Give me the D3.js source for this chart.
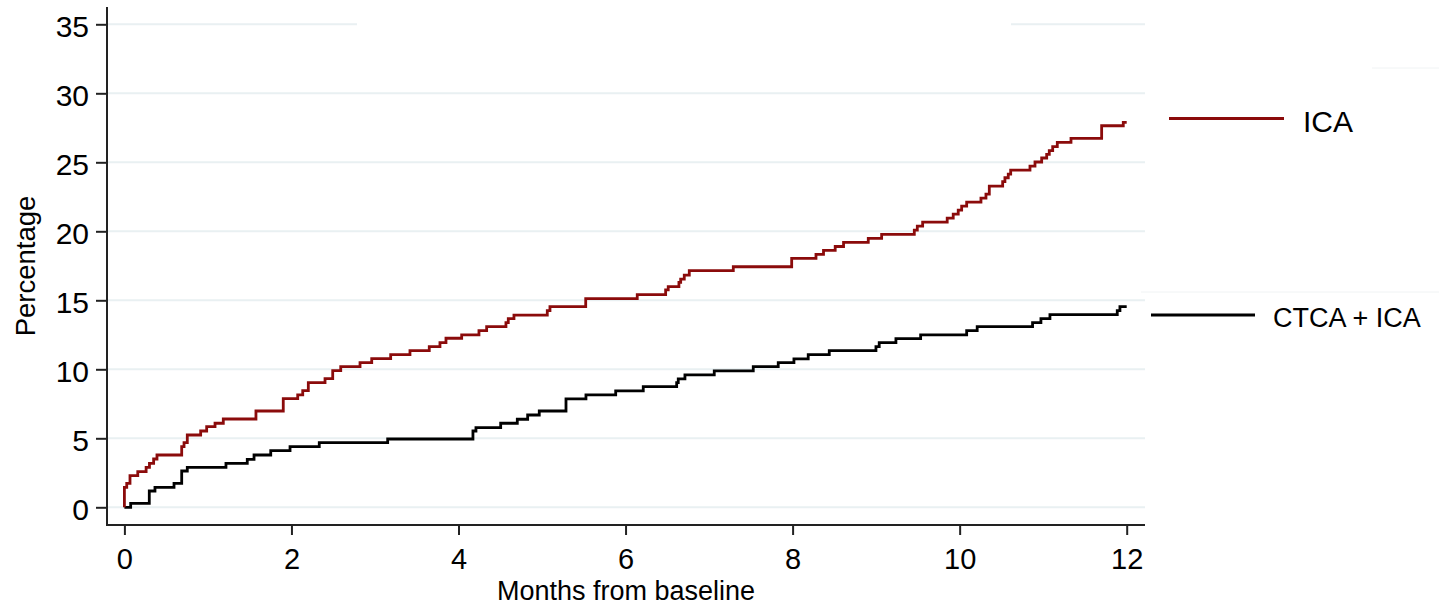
<!DOCTYPE html>
<html>
<head>
<meta charset="utf-8">
<script src="https://cdn.jsdelivr.net/npm/d3@7"></script>
<style>
  html, body { margin: 0; padding: 0; background: #fff; }
  svg { display: block; font-family: "Liberation Sans", Arial, sans-serif; }
</style>
</head>
<body>
<svg id="chart"></svg>
<script>
// cumulative percentage (time of step, new value)
let icaMonths = [0, 0, 0.028, 0.067, 0.16, 0.26, 0.30, 0.35, 0.39, 0.686, 0.714, 0.753, 0.913, 0.985, 1.085, 1.184,
    1.575, 1.902, 2.075, 2.135, 2.202, 2.402, 2.494, 2.59, 2.821, 2.961, 3.188, 3.419, 3.65, 3.778, 3.85,
    4.038, 4.245, 4.337, 4.568, 4.596, 4.664, 5.063, 5.095, 5.523, 6.14, 6.48, 6.511, 6.639, 6.66, 6.703,
    6.763, 7.29, 7.989, 8.28, 8.37, 8.51, 8.61, 8.906, 9.066, 9.457, 9.493, 9.557, 9.851, 9.923, 9.983,
    10.024, 10.084, 10.255, 10.315, 10.355, 10.515, 10.542, 10.582, 10.611, 10.842, 10.902, 10.982, 11.042,
    11.073, 11.114, 11.169, 11.333, 11.70, 11.959, 12.0];
let icaPct = [0, 1.45, 1.74, 2.29, 2.58, 2.9, 3.19, 3.5, 3.79, 4.39, 4.68, 5.24, 5.53, 5.84, 6.09, 6.40,
    6.98, 7.87, 8.14, 8.45, 9.03, 9.32, 9.9, 10.19, 10.48, 10.77, 11.06, 11.35, 11.64, 11.93, 12.25,
    12.49, 12.8, 13.09, 13.38, 13.67, 13.93, 14.25, 14.54, 15.12, 15.41, 15.75, 15.99, 16.3, 16.54, 16.83,
    17.15, 17.43, 18.04, 18.33, 18.62, 18.9, 19.2, 19.49, 19.78, 20.09, 20.38, 20.67, 20.96, 21.25, 21.54,
    21.83, 22.12, 22.41, 22.7, 23.28, 23.6, 23.88, 24.15, 24.44, 24.73, 25.02, 25.31, 25.58,
    25.84, 26.13, 26.45, 26.74, 27.65, 27.9, 27.9];

let ctcaMonths = [0, 0.075, 0.298, 0.366, 0.594, 0.686, 0.753, 1.216, 1.471, 1.552, 1.752, 1.983, 2.333, 3.152,
    4.173, 4.209, 4.505, 4.704, 4.828, 4.967, 5.287, 5.526, 5.882, 6.212, 6.612, 6.631, 6.711, 7.062, 7.529,
    7.828, 8.016, 8.187, 8.439, 8.998, 9.037, 9.237, 9.533, 10.084, 10.21, 10.873, 10.973, 11.081, 11.887,
    11.919, 12.0];
let ctcaPct = [0, 0.29, 1.18, 1.45, 1.74, 2.63, 2.9, 3.19, 3.48, 3.79, 4.1, 4.39, 4.68, 4.95,
    5.53, 5.77, 6.09, 6.38, 6.69, 6.98, 7.85, 8.14, 8.43, 8.74, 9.03, 9.3, 9.59, 9.88, 10.19,
    10.48, 10.75, 11.06, 11.35, 11.64, 11.93, 12.22, 12.49, 12.8, 13.09, 13.38, 13.67, 13.96, 14.25,
    14.54, 14.54];

let xTicks = [0, 2, 4, 6, 8, 10, 12];
let yTicks = [0, 5, 10, 15, 20, 25, 30, 35];
let seriesNames = ['ICA', 'CTCA + ICA'];

let width = 1439;
let height = 604;
let red = '#8b0b0b';
let gridColor = '#e9f0f2';

function main() {
    let svg = d3.select('#chart')
        .attr('width', width)
        .attr('height', height);

    // plot frame
    let frame = {'left': 107, 'right': 1145, 'top': 7, 'bottom': 525};

    let x = d3.scaleLinear().domain([0, 12]).range([124.4, 1126.7]);
    let y = d3.scaleLinear().domain([0, 35]).range([507.3, 24.3]);

    // gridlines
    let grid = svg.append('g');
    yTicks.forEach(function (t) {
        let g = grid.append('line')
            .attr('x1', frame.left)
            .attr('x2', frame.right)
            .attr('y1', y(t))
            .attr('y2', y(t))
            .attr('stroke', gridColor)
            .attr('stroke-width', 2);
        if (t == 35) {
            // top line is broken in the original
            g.attr('stroke-dasharray', `${357 - frame.left} ${1011 - 357} 200`);
        }
    });

    // faint legend region edges
    svg.append('line')
        .attr('x1', 1141).attr('x2', width).attr('y1', 292).attr('y2', 292)
        .attr('stroke', '#f0f3f4').attr('stroke-width', 1);
    svg.append('line')
        .attr('x1', 1372).attr('x2', width).attr('y1', 68).attr('y2', 68)
        .attr('stroke', '#f0f3f4').attr('stroke-width', 1);

    // y axis
    let yAxis = svg.append('g')
        .attr('transform', `translate(${frame.left},0)`)
        .call(d3.axisLeft(y).tickValues(yTicks).tickSize(11).tickPadding(7).tickSizeOuter(0));
    yAxis.select('.domain').remove();
    yAxis.selectAll('.tick line').attr('stroke', '#222').attr('stroke-width', 2);
    yAxis.selectAll('.tick text')
        .attr('font-size', 30)
        .attr('font-family', '"Liberation Sans", Arial, sans-serif')
        .attr('fill', '#000')
        .attr('dy', '0.4em');
    svg.append('line')
        .attr('x1', frame.left).attr('x2', frame.left)
        .attr('y1', frame.top).attr('y2', frame.bottom + 1)
        .attr('stroke', '#222').attr('stroke-width', 2);

    // x axis
    let xAxis = svg.append('g')
        .attr('transform', `translate(0,${frame.bottom})`)
        .call(d3.axisBottom(x).tickValues(xTicks).tickSize(10).tickSizeOuter(0));
    xAxis.select('.domain').remove();
    xAxis.selectAll('.tick line').attr('stroke', '#222').attr('stroke-width', 2);
    xAxis.selectAll('.tick text')
        .attr('font-size', 29)
        .attr('font-family', '"Liberation Sans", Arial, sans-serif')
        .attr('fill', '#000')
        .attr('y', 44)
        .attr('dy', 0);
    svg.append('line')
        .attr('x1', frame.left - 1).attr('x2', frame.right)
        .attr('y1', frame.bottom).attr('y2', frame.bottom)
        .attr('stroke', '#222').attr('stroke-width', 2);

    // axis titles
    svg.append('text')
        .attr('x', (frame.left + frame.right) / 2)
        .attr('y', 599.5)
        .attr('text-anchor', 'middle')
        .attr('font-size', 27)
        .text('Months from baseline');
    svg.append('text')
        .attr('transform', 'translate(35,266) rotate(-90)')
        .attr('text-anchor', 'middle')
        .attr('font-size', 27.5)
        .text('Percentage');

    // step curves
    let line = d3.line()
        .x(d => x(d[0]))
        .y(d => y(d[1]))
        .curve(d3.curveStepAfter);

    let icaData = icaMonths.map((m, i) => [m, icaPct[i]]);
    let ctcaData = ctcaMonths.map((m, i) => [m, ctcaPct[i]]);

    svg.append('path')
        .datum(ctcaData)
        .attr('d', line)
        .attr('fill', 'none')
        .attr('stroke', '#000')
        .attr('stroke-width', 2.8);
    svg.append('path')
        .datum(icaData)
        .attr('d', line)
        .attr('fill', 'none')
        .attr('stroke', red)
        .attr('stroke-width', 2.8);

    // legend, each key sits next to the end of its curve
    let legend = svg.append('g');
    legend.append('line')
        .attr('x1', 1169).attr('x2', 1284).attr('y1', 118.5).attr('y2', 118.5)
        .attr('stroke', red).attr('stroke-width', 2.8);
    legend.append('text')
        .attr('x', 1303).attr('y', 131.5)
        .attr('font-size', 30)
        .text(seriesNames[0]);
    legend.append('line')
        .attr('x1', 1151).attr('x2', 1255).attr('y1', 315).attr('y2', 315)
        .attr('stroke', '#000').attr('stroke-width', 2.8);
    legend.append('text')
        .attr('x', 1273).attr('y', 326.5)
        .attr('font-size', 27)
        .text(seriesNames[1]);
}
main()
</script>
</body>
</html>
